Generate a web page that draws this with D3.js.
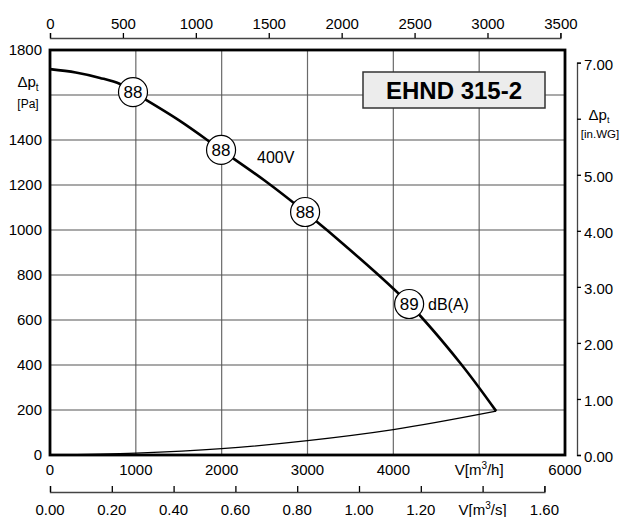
<!DOCTYPE html>
<html><head><meta charset="utf-8">
<script src="https://cdn.jsdelivr.net/npm/d3@7"></script>
<style>body{margin:0;background:#fff}svg{display:block;font-family:"Liberation Sans",Arial,sans-serif}</style>
</head><body><svg id="c" width="624" height="517"></svg>
<script>
// Data
const flowTicks = [0,1000,2000,3000,4000,5000,6000];
const pressTicks = [0,200,400,600,800,1000,1200,1400,1600,1800];
const cfmTicks = [0,500,1000,1500,2000,2500,3000,3500];
const inwgTicks = [0,1,2,3,4,5,6,7];
const m3sTicks = [0,0.2,0.4,0.6,0.8,1.0,1.2,1.4,1.6];
const curveV = [0,300,583,816,967,1500,1993,2500,2972,3500,4184,4779,5198];
const curveP = [1715,1700,1676,1649,1613,1488,1356,1220,1080,910,671,409,195];
const sysV = [0,1000,2000,3000,4000,5198];
const sysP = [0,8,28,64,113,195];
const markerV = [967,1993,2972,4184];
const markerP = [1613,1356,1080,671];
const markerLbl = ["88","88","88","89"];
const title = "EHND 315-2";

const svg = d3.select("#c");
const x = d3.scaleLinear([0,6000],[50,565]);
const y = d3.scaleLinear([0,1800],[455,50]);
const xCfm = d3.scaleLinear([0,3500],[x(0),x(3500*1.699)]);
const yIn = d3.scaleLinear([0,7],[y(0),y(7*249.09)]);
const xM3s = d3.scaleLinear([0,1.6],[x(0),x(1.6*3600)]);
const FS = 15;

// grid
const g = svg.append("g");
g.selectAll("line.v").data(flowTicks.slice(1,-1)).join("line")
 .attr("x1",d=>x(d)).attr("x2",d=>x(d)).attr("y1",y(0)).attr("y2",y(1800))
 .attr("stroke","#6a6a6a").attr("stroke-width",1.2);
g.selectAll("line.h").data(pressTicks.slice(1,-1)).join("line")
 .attr("y1",d=>y(d)).attr("y2",d=>y(d)).attr("x1",x(0)).attr("x2",x(6000))
 .attr("stroke","#555").attr("stroke-width",1.2);

// title box
svg.append("rect").attr("x",363).attr("y",72).attr("width",182).attr("height",36)
 .attr("fill","#ececec").attr("stroke","#333").attr("stroke-width",1.5);
svg.append("text").attr("x",454).attr("y",99).attr("text-anchor","middle")
 .attr("font-size",24).attr("font-weight","bold").text(title);

// system curve
const line = d3.line().x(d=>x(d[0])).y(d=>y(d[1])).curve(d3.curveMonotoneX);
svg.append("path").datum(sysV.map((v,i)=>[v,sysP[i]])).attr("d",line)
 .attr("fill","none").attr("stroke","#000").attr("stroke-width",1.3);
// fan curve
svg.append("path").datum(curveV.map((v,i)=>[v,curveP[i]])).attr("d",d3.line().x(d=>x(d[0])).y(d=>y(d[1])).curve(d3.curveCatmullRom))
 .attr("fill","none").attr("stroke","#000").attr("stroke-width",2.6);

// frame
svg.append("rect").attr("x",x(0)).attr("y",y(1800)).attr("width",x(6000)-x(0)).attr("height",y(0)-y(1800))
 .attr("fill","none").attr("stroke","#000").attr("stroke-width",2.8);

// markers
const mk = svg.selectAll("g.mk").data(markerV).join("g").attr("transform",(d,i)=>`translate(${x(d)},${y(markerP[i])})`);
mk.append("circle").attr("r",14.5).attr("fill","#fff").attr("stroke","#000").attr("stroke-width",1.2);
mk.append("text").attr("text-anchor","middle").attr("dy","0.36em").attr("font-size",17).text((d,i)=>markerLbl[i]);
svg.append("text").attr("x",257).attr("y",163).attr("font-size",16).text("400V");
svg.append("text").attr("x",428).attr("y",310).attr("font-size",16).text("dB(A)");

// main x labels
svg.append("g").selectAll("text").data(flowTicks).join("text")
 .attr("x",d=>x(d)).attr("y",475).attr("text-anchor","middle").attr("font-size",FS)
 .text(d=>d===5000?"":d);
const vl = svg.append("text").attr("x",x(5000)).attr("y",475).attr("text-anchor","middle").attr("font-size",FS);
vl.append("tspan").text("V[m");
vl.append("tspan").attr("font-size",10).attr("dy",-6).text("3");
vl.append("tspan").attr("dy",6).text("/h]");

// main y labels
svg.append("g").selectAll("text").data(pressTicks).join("text")
 .attr("x",42).attr("y",d=>y(d)+5).attr("text-anchor","end").attr("font-size",FS)
 .text(d=>d===1600?"":d);
const pl = svg.append("text").attr("x",28).attr("y",87).attr("text-anchor","middle").attr("font-size",FS);
pl.append("tspan").text("Δp");
pl.append("tspan").attr("font-size",10).attr("dy",4).text("t");
svg.append("text").attr("x",28).attr("y",108).attr("text-anchor","middle").attr("font-size",12).text("[Pa]");

// top axis (cfm)
const topAx = svg.append("g").attr("transform","translate(0,38)")
 .call(d3.axisTop(xCfm).tickValues(cfmTicks).tickSize(5).tickPadding(4).tickFormat(d3.format("d")));
topAx.select(".domain").attr("stroke","#444").attr("stroke-width",1.3);
topAx.selectAll(".tick line").attr("stroke","#000").attr("stroke-width",1.3);
topAx.selectAll("text").attr("font-size",FS).attr("font-family","Liberation Sans, Arial, sans-serif").attr("fill","#000");

// right axis (in.WG)
const rt = svg.append("g").attr("transform","translate(577,0)")
 .call(d3.axisRight(yIn).tickValues(inwgTicks).tickSize(4).tickPadding(3).tickFormat(d=>d===6?"":d3.format(".2f")(d)));
rt.select(".domain").attr("stroke","#444").attr("stroke-width",1.3);
rt.selectAll(".tick line").attr("stroke","#000").attr("stroke-width",1.3);
rt.selectAll("text").attr("font-size",FS).attr("font-family","Liberation Sans, Arial, sans-serif").attr("fill","#000").attr("dy","0.45em");
const rl = svg.append("text").attr("x",599).attr("y",120).attr("text-anchor","middle").attr("font-size",FS);
rl.append("tspan").text("Δp");
rl.append("tspan").attr("font-size",9).attr("dy",3).text("t");
svg.append("text").attr("x",600).attr("y",138).attr("text-anchor","middle").attr("font-size",11.5).text("[in.WG]");

// bottom axis (m3/s)
const bt = svg.append("g").attr("transform","translate(0,492)")
 .call(d3.axisTop(xM3s).tickValues(m3sTicks).tickSize(6).tickFormat(()=>""));
bt.select(".domain").attr("stroke","#444").attr("stroke-width",1.3);
bt.selectAll(".tick line").attr("stroke","#000").attr("stroke-width",1.3);
svg.append("g").selectAll("text").data(m3sTicks).join("text")
 .attr("x",d=>xM3s(d)).attr("y",515).attr("text-anchor","middle").attr("font-size",FS)
 .text(d=>Math.abs(d-1.4)<1e-9?"":d3.format(".2f")(d));
const sl = svg.append("text").attr("x",xM3s(1.4)).attr("y",515).attr("text-anchor","middle").attr("font-size",FS);
sl.append("tspan").text("V[m");
sl.append("tspan").attr("font-size",10).attr("dy",-6).text("3");
sl.append("tspan").attr("dy",6).text("/s]");
</script></body></html>
